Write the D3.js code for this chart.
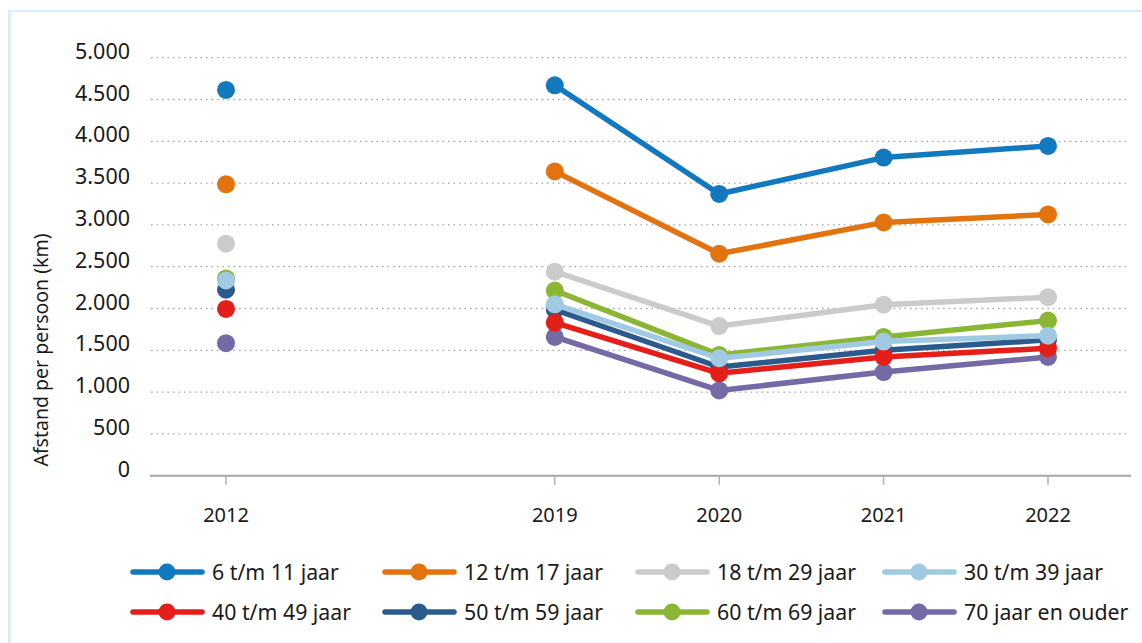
<!DOCTYPE html>
<html>
<head>
<meta charset="utf-8">
<script src="https://cdn.jsdelivr.net/npm/d3@7"></script>
<style>
  html, body { margin: 0; padding: 0; background: #fff; }
  svg { display: block; font-family: "Noto Sans", "Open Sans", sans-serif; }
</style>
</head>
<body>
<svg id="chart" width="1142" height="643"></svg>
<script>
// ---- data ----
const years = ["2012", "2019", "2020", "2021", "2022"];
const xDomain = ["2012", "", "2019", "2020", "2021", "2022"];
const yTicks = [0, 500, 1000, 1500, 2000, 2500, 3000, 3500, 4000, 4500, 5000];
const seriesNames = ["6 t/m 11 jaar", "12 t/m 17 jaar", "18 t/m 29 jaar", "30 t/m 39 jaar",
                     "40 t/m 49 jaar", "50 t/m 59 jaar", "60 t/m 69 jaar", "70 jaar en ouder"];
const seriesColors = ["#1279be", "#e2730f", "#cbcbcc", "#9fcae2",
                      "#e41f1a", "#2b5a8d", "#8bb634", "#7569a6"];
const v6_11  = [4615, 4670, 3370, 3805, 3945];
const v12_17 = [3485, 3640, 2655, 3030, 3125];
const v18_29 = [2775, 2440, 1790, 2045, 2135];
const v30_39 = [2335, 2050, 1405, 1605, 1675];
const v40_49 = [1995, 1830, 1225, 1420, 1525];
const v50_59 = [2225, 1985, 1300, 1500, 1625];
const v60_69 = [2360, 2215, 1445, 1660, 1855];
const v70    = [1585, 1660, 1020, 1240, 1420];
const seriesValues = [v6_11, v12_17, v18_29, v30_39, v40_49, v50_59, v60_69, v70];

// ---- layout ----
const svg = d3.select("#chart");
const x = d3.scalePoint().domain(xDomain).range([143.8, 1130.2]).padding(0.5);
const y = d3.scaleLinear().domain([0, 5000]).range([475.7, 57.7]);

// frame
svg.append("line").attr("x1", 9.5).attr("x2", 9.5).attr("y1", 10).attr("y2", 643)
  .attr("stroke", "#dcedf8").attr("stroke-width", 3);
svg.append("line").attr("x1", 9).attr("x2", 1142).attr("y1", 11).attr("y2", 11)
  .attr("stroke", "#dcedf8").attr("stroke-width", 2);

// gridlines
svg.append("g").selectAll("line").data(yTicks.filter(d => d > 0)).join("line")
  .attr("x1", 151).attr("x2", 1128)
  .attr("y1", d => y(d)).attr("y2", d => y(d))
  .attr("stroke", "#a8a8a8").attr("stroke-width", 1.3)
  .attr("stroke-dasharray", "1.6,3.9");

// y tick labels
const fmt = d => d3.format(",")(d).replace(/,/g, ".");
svg.append("g").selectAll("text").data(yTicks).join("text")
  .attr("x", 130).attr("y", d => y(d) + 1)
  .attr("text-anchor", "end")
  .attr("font-size", 21.5).attr("fill", "#1a1a1a")
  .text(fmt);

// x axis line
svg.append("line").attr("x1", 150).attr("x2", 1131)
  .attr("y1", y(0)).attr("y2", y(0))
  .attr("stroke", "#a6a6a6").attr("stroke-width", 2);

// x ticks
const xt = svg.append("g").selectAll("g").data(years).join("g")
  .attr("transform", d => `translate(${x(d)},0)`);
xt.append("line").attr("y1", y(0) + 1).attr("y2", y(0) + 9)
  .attr("stroke", "#b0b0b0").attr("stroke-width", 1.5);
xt.append("text").attr("y", 522).attr("text-anchor", "middle")
  .attr("font-size", 20).attr("fill", "#1a1a1a")
  .text(d => d);

// y axis title
svg.append("text")
  .attr("transform", "translate(48,350) rotate(-90)")
  .attr("text-anchor", "middle")
  .attr("font-size", 19.5).attr("fill", "#1a1a1a")
  .text("Afstand per persoon (km)");

// series (drawn in reverse order so first series is on top)
const series = seriesNames.map((name, i) => ({
  name, color: seriesColors[i],
  values: years.map((yr, j) => ({ year: yr, value: seriesValues[i][j] }))
}));

const line = d3.line().x(d => x(d.year)).y(d => y(d.value));
const sg = svg.append("g").selectAll("g").data(series.slice().reverse()).join("g");
sg.append("path")
  .attr("d", d => line(d.values.filter(v => v.year !== "2012")))
  .attr("fill", "none").attr("stroke", d => d.color)
  .attr("stroke-width", 5.5).attr("stroke-linejoin", "round");
sg.selectAll("circle").data(d => d.values.map(v => ({ ...v, color: d.color }))).join("circle")
  .attr("cx", d => x(d.year)).attr("cy", d => y(d.value)).attr("r", 9)
  .attr("fill", d => d.color);

// legend
const legX = [131, 383, 636, 883];
const legY = [572, 612];
const lg = svg.append("g").selectAll("g").data(series).join("g")
  .attr("transform", (d, i) => `translate(${legX[i % 4]},${legY[Math.floor(i / 4)]})`);
lg.append("line").attr("x1", 2).attr("x2", 71)
  .attr("stroke", d => d.color).attr("stroke-width", 5.5).attr("stroke-linecap", "round");
lg.append("circle").attr("cx", 36).attr("r", 8.5).attr("fill", d => d.color);
lg.append("text").attr("x", 81).attr("y", 7.5)
  .attr("font-size", 21.3).attr("fill", "#1a1a1a")
  .text(d => d.name);
</script>
</body>
</html>
